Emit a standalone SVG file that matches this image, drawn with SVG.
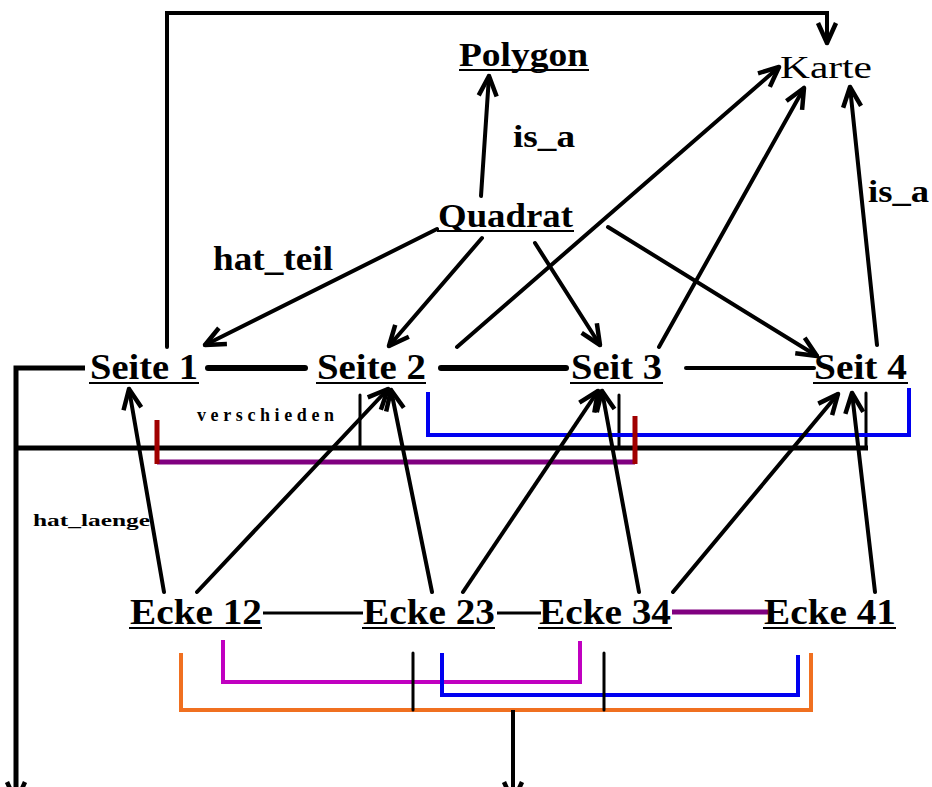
<svg xmlns="http://www.w3.org/2000/svg" width="932" height="787" viewBox="0 0 932 787">
<style>
.lbl{font-family:"Liberation Serif","Times New Roman",serif;font-weight:bold;fill:#000}
.ul{stroke:#000;stroke-width:2.2}
.ln{fill:none;stroke:#000;stroke-width:4;stroke-linecap:round;stroke-linejoin:miter}
.ar{marker-end:url(#ah)}
</style>
<defs>
<marker id="ah" markerUnits="userSpaceOnUse" markerWidth="30" markerHeight="28" viewBox="-26 -14 30 28" refX="0" refY="0" orient="auto">
<path d="M-20,-9 L0,0 L-20,9" fill="none" stroke="#000" stroke-width="4.5" stroke-linejoin="round"/>
</marker>
</defs>
<rect width="932" height="787" fill="#fff"/>
<g id="connectors">
<polyline class="ln ar" points="167,347 167,13 827,13 827,43"/>
<line class="ln ar" x1="481" y1="196" x2="489" y2="76"/>
<line class="ln ar" x1="437" y1="229" x2="205" y2="345"/>
<line class="ln ar" x1="482" y1="238" x2="389" y2="346"/>
<line class="ln ar" x1="535" y1="243" x2="600" y2="345"/>
<line class="ln ar" x1="608" y1="227" x2="817" y2="356"/>
<line class="ln ar" x1="457" y1="347" x2="779" y2="67"/>
<line class="ln ar" x1="659" y1="347" x2="804" y2="88"/>
<line class="ln ar" x1="877" y1="345" x2="850" y2="87"/>
<line class="ln" style="stroke-width:6" x1="208" y1="368" x2="305" y2="368"/>
<line class="ln" style="stroke-width:6" x1="441" y1="368" x2="566" y2="368"/>
<line class="ln" x1="686" y1="368" x2="814" y2="368"/>
<polyline class="ln ar" style="stroke-width:5;stroke-linecap:butt" points="85,368 16,368 16,802"/>
<line class="ln" style="stroke-width:5;stroke-linecap:butt" x1="16" y1="448" x2="868" y2="448"/>
<line class="ln" style="stroke-width:3" x1="360" y1="395" x2="360" y2="448"/>
<line class="ln" style="stroke-width:3" x1="619" y1="395" x2="619" y2="448"/>
<line class="ln" style="stroke-width:3" x1="866" y1="393" x2="866" y2="448"/>
<polyline points="428,392 428,435 909,435 909,388" fill="none" stroke="#0000f0" stroke-width="4"/>
<polyline points="157,462 635,462" fill="none" stroke="#800080" stroke-width="5"/>
<line x1="157" y1="420" x2="157" y2="464" stroke="#a00000" stroke-width="5"/>
<line x1="635" y1="416" x2="635" y2="464" stroke="#a00000" stroke-width="5"/>
<line class="ln ar" x1="164" y1="592" x2="129" y2="389"/>
<line class="ln ar" x1="197" y1="592" x2="388" y2="389"/>
<line class="ln ar" x1="432" y1="592" x2="391" y2="390"/>
<line class="ln ar" x1="463" y1="592" x2="598" y2="391"/>
<line class="ln ar" x1="639" y1="592" x2="602" y2="391"/>
<line class="ln ar" x1="673" y1="592" x2="838" y2="394"/>
<line class="ln ar" x1="875" y1="592" x2="852" y2="393"/>
<line class="ln" style="stroke-width:3;stroke-linecap:butt" x1="263" y1="613" x2="363" y2="613"/>
<line class="ln" style="stroke-width:3;stroke-linecap:butt" x1="497" y1="613" x2="541" y2="613"/>
<line x1="672" y1="612" x2="768" y2="612" stroke="#800080" stroke-width="5"/>
<polyline points="181,653 181,710 811,710 811,653" fill="none" stroke="#f07020" stroke-width="4"/>
<polyline points="223,640 223,682 580,682 580,641" fill="none" stroke="#c000c0" stroke-width="4"/>
<polyline points="442,653 442,695 798,695 798,655" fill="none" stroke="#0000f0" stroke-width="4"/>
<line class="ln" style="stroke-width:3" x1="413" y1="653" x2="413" y2="710"/>
<line class="ln" style="stroke-width:3" x1="604" y1="653" x2="604" y2="710"/>
<line class="ln ar" style="stroke-linecap:butt" x1="513" y1="710" x2="513" y2="802"/>
</g>
<g id="label-is_a-1"><text class="lbl" x="513" y="147" font-size="32" textLength="62" lengthAdjust="spacingAndGlyphs">is_a</text></g>
<g id="label-is_a-2"><text class="lbl" x="868" y="202" font-size="32" textLength="61" lengthAdjust="spacingAndGlyphs">is_a</text></g>
<g id="label-hat_teil"><text class="lbl" x="213" y="270" font-size="34" textLength="120" lengthAdjust="spacingAndGlyphs">hat_teil</text></g>
<g id="label-verschieden"><text class="lbl" x="197" y="421" font-size="18" textLength="137" lengthAdjust="spacing">verschieden</text></g>
<g id="label-hat_laenge"><text class="lbl" x="33" y="526" font-size="17" textLength="117" lengthAdjust="spacingAndGlyphs">hat_laenge</text></g>
<g id="node-polygon"><text class="lbl" x="459" y="66" font-size="33" textLength="129" lengthAdjust="spacingAndGlyphs">Polygon</text><line class="ul" x1="459" y1="70" x2="589" y2="70"/></g>
<g id="node-karte"><text class="lbl" style="font-weight:normal" x="780" y="78" font-size="32" textLength="92" lengthAdjust="spacingAndGlyphs">Karte</text></g>
<g id="node-quadrat"><text class="lbl" x="438" y="227" font-size="33" textLength="135" lengthAdjust="spacingAndGlyphs">Quadrat</text><line class="ul" x1="437" y1="231" x2="574" y2="231"/></g>
<g id="node-seite1"><text class="lbl" x="90" y="379" font-size="36" textLength="108" lengthAdjust="spacingAndGlyphs">Seite 1</text><line class="ul" x1="89" y1="383" x2="199" y2="383"/></g>
<g id="node-seite2"><text class="lbl" x="317" y="379" font-size="36" textLength="109" lengthAdjust="spacingAndGlyphs">Seite 2</text><line class="ul" x1="316" y1="383" x2="426" y2="383"/></g>
<g id="node-seit3"><text class="lbl" x="571" y="379" font-size="36" textLength="91" lengthAdjust="spacingAndGlyphs">Seit 3</text><line class="ul" x1="570" y1="383" x2="663" y2="383"/></g>
<g id="node-seit4"><text class="lbl" x="814" y="379" font-size="36" textLength="93" lengthAdjust="spacingAndGlyphs">Seit 4</text><line class="ul" x1="813" y1="383" x2="908" y2="383"/></g>
<g id="node-ecke12"><text class="lbl" x="130" y="624" font-size="36" textLength="132" lengthAdjust="spacingAndGlyphs">Ecke 12</text><line class="ul" x1="129" y1="628" x2="262" y2="628"/></g>
<g id="node-ecke23"><text class="lbl" x="363" y="624" font-size="36" textLength="132" lengthAdjust="spacingAndGlyphs">Ecke 23</text><line class="ul" x1="362" y1="628" x2="495" y2="628"/></g>
<g id="node-ecke34"><text class="lbl" x="539" y="624" font-size="36" textLength="132" lengthAdjust="spacingAndGlyphs">Ecke 34</text><line class="ul" x1="538" y1="628" x2="672" y2="628"/></g>
<g id="node-ecke41"><text class="lbl" x="764" y="624" font-size="36" textLength="132" lengthAdjust="spacingAndGlyphs">Ecke 41</text><line class="ul" x1="763" y1="628" x2="896" y2="628"/></g>
</svg>
